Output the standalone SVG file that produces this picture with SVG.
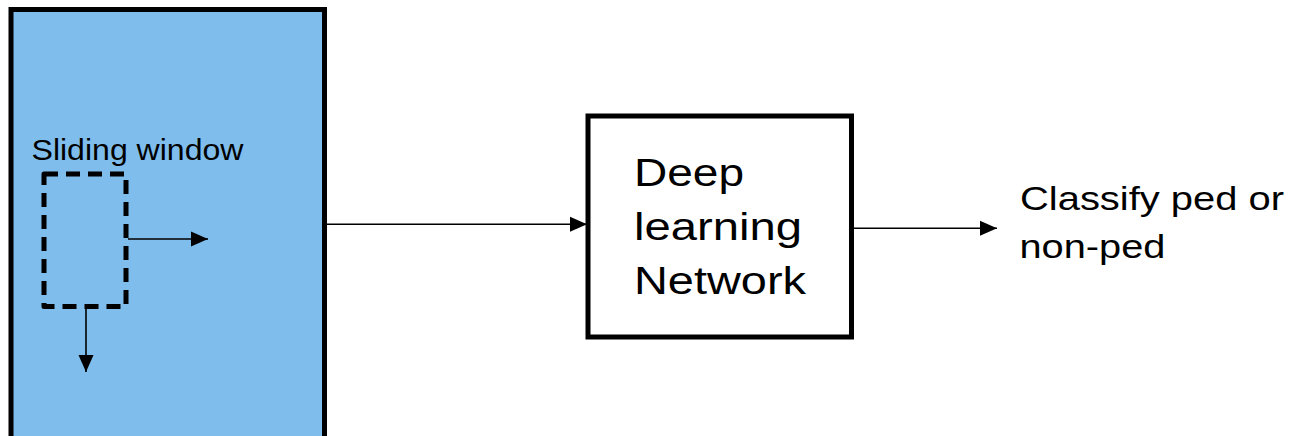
<svg xmlns="http://www.w3.org/2000/svg" width="1298" height="436" viewBox="0 0 1298 436">
  <style>
    .lbl { font-family: "Liberation Sans", Arial, sans-serif; fill: #000; }
    .conn { stroke: #000; stroke-width: 1.6; fill: none; marker-end: url(#arr); }
  </style>
  <defs>
    <marker id="arr" markerUnits="userSpaceOnUse" markerWidth="18" markerHeight="16" refX="17" refY="7.5" orient="auto" overflow="visible">
      <path d="M0,0 L17,7.5 L0,15 Z" fill="#000"/>
    </marker>
  </defs>
  <rect width="1298" height="436" fill="#fff"/>
  <g id="image-frame">
    <rect x="11" y="9.5" width="313.5" height="440" fill="#7fbdec" stroke="#000" stroke-width="5"/>
    <text class="lbl" x="31.5" y="159.5" font-size="30" textLength="212" lengthAdjust="spacingAndGlyphs">Sliding window</text>
  </g>
  <g id="sliding-window">
    <rect x="44" y="174" width="82" height="132.5" fill="none" stroke="#000" stroke-width="5" stroke-dasharray="14 8" stroke-linejoin="round"/>
  </g>
  <g id="dl-network">
    <rect x="588" y="116" width="263.5" height="221" fill="#fff" stroke="#000" stroke-width="5"/>
    <text class="lbl" x="634" y="186" font-size="38" textLength="110" lengthAdjust="spacingAndGlyphs">Deep</text>
    <text class="lbl" x="634" y="240" font-size="38" textLength="168" lengthAdjust="spacingAndGlyphs">learning</text>
    <text class="lbl" x="634" y="294" font-size="38" textLength="172" lengthAdjust="spacingAndGlyphs">Network</text>
  </g>
  <g id="output">
    <text class="lbl" x="1020" y="209.5" font-size="33" textLength="264" lengthAdjust="spacingAndGlyphs">Classify ped or</text>
    <text class="lbl" x="1019.5" y="257.5" font-size="33" textLength="146" lengthAdjust="spacingAndGlyphs">non-ped</text>
  </g>
  <g id="connectors">
    <line class="conn" x1="128" y1="239" x2="208" y2="239"/>
    <line class="conn" x1="86" y1="309" x2="86" y2="372"/>
    <line class="conn" x1="327" y1="224.3" x2="587" y2="224.3"/>
    <line class="conn" x1="854" y1="228.3" x2="997" y2="228.3"/>
  </g>
</svg>
